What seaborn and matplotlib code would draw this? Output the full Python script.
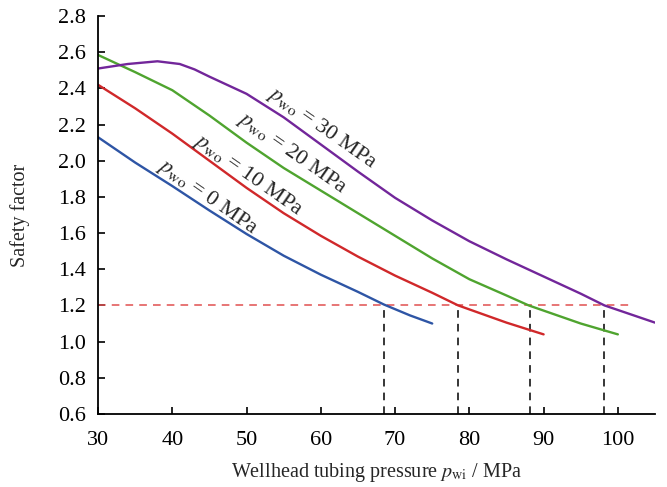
import pandas as pd
import matplotlib
matplotlib.use("Agg")
import matplotlib.pyplot as plt
import seaborn as sns

# wellhead tubing pressure (MPa) and safety factor, one curve per p_wo
x_0 = [30, 35, 40, 45, 50, 55, 60, 65, 68.5, 72, 75]
sf_0 = [2.13, 1.99, 1.86, 1.725, 1.595, 1.475, 1.37, 1.275, 1.205, 1.145, 1.10]

x_10 = [30, 35, 40, 45, 50, 55, 60, 65, 70, 75, 78.5, 85, 90]
sf_10 = [2.42, 2.29, 2.15, 2.00, 1.85, 1.71, 1.585, 1.47, 1.365, 1.27, 1.20, 1.105, 1.04]

x_20 = [30, 35, 40, 45, 50, 55, 60, 65, 70, 75, 80, 85, 88, 95, 100]
sf_20 = [2.585, 2.49, 2.39, 2.25, 2.10, 1.96, 1.835, 1.71, 1.585, 1.46, 1.345, 1.255, 1.20, 1.10, 1.04]

x_30 = [30, 34, 38, 41, 43, 45, 50, 55, 60, 65, 70, 75, 80, 85, 90, 95, 98.2, 105]
sf_30 = [2.51, 2.535, 2.55, 2.535, 2.505, 2.465, 2.37, 2.24, 2.09, 1.94, 1.795, 1.67, 1.555, 1.455, 1.36, 1.265, 1.20, 1.105]

labels = ['0', '10', '20', '30']
colors = ['#2e55a5', '#d0282a', '#4fa42f', '#72269a']

# allowable safety factor and the limiting tubing pressures
sf_limit = 1.2
x_limits = [68.5, 78.5, 88.2, 98.2]

# label positions (x, y) for each curve
label_x = [44.8, 50.2, 56.1, 60.1]
label_y = [1.80, 1.92, 2.04, 2.18]

frames = []
for p, xs, ys in zip(labels, [x_0, x_10, x_20, x_30], [sf_0, sf_10, sf_20, sf_30]):
    frames.append(pd.DataFrame({'pwi': xs, 'sf': ys, 'pwo': p}))
df = pd.concat(frames, ignore_index=True)

sns.set_style("ticks")
plt.rcParams['font.family'] = ['Liberation Serif', 'DejaVu Serif']
plt.rcParams['mathtext.fontset'] = 'stix'

fig = plt.figure(figsize=(6.67, 4.87), dpi=100)
ax = fig.add_axes([0.147, 0.150, 0.835, 0.817])

sns.lineplot(data=df, x='pwi', y='sf', hue='pwo', palette=colors, hue_order=labels,
             legend=False, linewidth=1.7, ax=ax, sort=False)

ax.plot([30, 101.5], [sf_limit, sf_limit], ls=(0, (5, 4)), color='#e05050', lw=1.1, zorder=1)
for xl in x_limits:
    ax.plot([xl, xl], [0.6, sf_limit], ls=(0, (5, 4)), color='black', lw=1.1, zorder=1)

for p, lx, ly in zip(labels, label_x, label_y):
    ax.text(lx, ly, r'$p_{\rm wo}$ = ' + p + ' MPa', rotation=-35, fontsize=16,
            ha='center', va='center', rotation_mode='anchor')

ax.set_xlim(30, 105)
ax.set_ylim(0.6, 2.8)
ax.set_xticks([30, 40, 50, 60, 70, 80, 90, 100])
ax.set_yticks([0.6, 0.8, 1.0, 1.2, 1.4, 1.6, 1.8, 2.0, 2.2, 2.4, 2.6, 2.8])
ax.yaxis.set_major_formatter(matplotlib.ticker.FormatStrFormatter('%.1f'))
ax.tick_params(direction='in', length=5, width=1.2, labelsize=16, colors='black')
ax.tick_params(axis='x', pad=12)
ax.tick_params(axis='y', pad=9)
for s in ['left', 'bottom']:
    ax.spines[s].set_linewidth(1.3)
    ax.spines[s].set_color('black')
sns.despine(ax=ax)

ax.set_xlabel(r'Wellhead tubing pressure $p_{\rm wi}$ / MPa', fontsize=14.5, labelpad=8)
ax.set_ylabel('Safety factor', fontsize=14.5, labelpad=20)

fig.savefig('out.png', dpi=100)
